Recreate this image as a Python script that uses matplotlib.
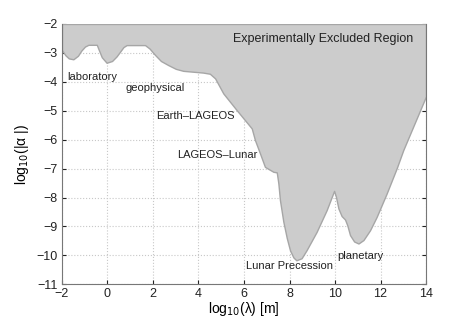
import matplotlib
matplotlib.use("Agg")
import matplotlib.pyplot as plt

plt.rcParams['font.family'] = ['Liberation Sans', 'DejaVu Sans']

# boundary of the excluded region (log10 lambda, log10 |alpha|)
bound_x = [-2.0, -1.85, -1.7, -1.5, -1.3, -1.15, -0.99, -0.84, -0.47, -0.38, -0.25, -0.04, 0.2,
           0.4, 0.55, 0.7, 0.84, 1.65, 1.85, 2.09, 2.35, 2.67, 3.0, 3.33, 4.2, 4.5, 4.73, 5.09,
           5.68, 6.34, 6.48, 6.7, 6.92, 7.29, 7.44,
           7.51, 7.58, 7.73, 7.88, 8.02, 8.17, 8.3, 8.53, 8.75, 9.19, 9.63, 9.96,
           10.04, 10.15, 10.29, 10.44, 10.54, 10.66, 10.84, 11.03, 11.25, 11.54, 11.83,
           12.27, 12.71, 13.0, 14.0]
bound_y = [-2.9, -3.08, -3.19, -3.22, -3.1, -2.92, -2.78, -2.72, -2.72, -2.9, -3.15, -3.34, -3.28,
           -3.12, -2.96, -2.8, -2.73, -2.73, -2.85, -3.07, -3.28, -3.42, -3.55, -3.62, -3.68,
           -3.72, -3.88, -4.40, -4.98, -5.61, -6.01, -6.47, -6.94, -7.11, -7.13,
           -7.51, -8.09, -8.84, -9.4, -9.82, -10.07, -10.17, -10.1, -9.82, -9.19,
           -8.44, -7.77, -7.97, -8.38, -8.64, -8.76, -8.96, -9.3, -9.52, -9.59, -9.47, -9.13,
           -8.67, -7.86, -6.99, -6.36, -4.5]

labels = ["Experimentally Excluded Region", "laboratory", "geophysical", "Earth\u2013LAGEOS",
          "LAGEOS\u2013Lunar", "Lunar Precession", "planetary"]
label_x = [5.5, -1.75, 0.78, 2.12, 3.04, 6.07, 10.12]
label_y = [-2.53, -3.84, -4.22, -5.17, -6.53, -10.36, -10.03]
label_size = [9, 8, 8, 8, 8, 8, 8]

xticks = list(range(-2, 15, 2))
yticks = list(range(-11, -1))

fig = plt.figure(figsize=(4.71, 3.19), dpi=100)
ax = fig.add_axes([0.1316, 0.1088, 0.7729, 0.816])
ax.fill_between(bound_x, bound_y, -2, facecolor='#cccccc', edgecolor='#a6a6a6', linewidth=1.0,
                zorder=2, joinstyle='round')
ax.set_xlim(-2, 14)
ax.set_ylim(-11, -2)
ax.set_xticks(xticks)
ax.set_yticks(yticks)
ax.set_xticklabels([str(t).replace('-', '\u2212') for t in xticks])
ax.set_yticklabels([str(t).replace('-', '\u2212') for t in yticks])
ax.grid(True, color='#c8c8c8', linestyle=':', linewidth=0.8, zorder=0)
ax.set_axisbelow(True)
ax.tick_params(direction='in', length=3, top=False, right=True, labelsize=9, colors='#222222', pad=3)
for s in ax.spines.values():
    s.set_color('#777777')
ax.spines['top'].set_visible(False)
for i, t in enumerate(labels):
    ax.text(label_x[i], label_y[i], t, fontsize=label_size[i], va='center', ha='left', color='#222222', zorder=3)
ax.set_xlabel('log$_{10}$(λ) [m]', fontsize=10, labelpad=0)
ax.set_ylabel('log$_{10}$(|α |)', fontsize=10, labelpad=4)
fig.savefig('out.png', dpi=100)
